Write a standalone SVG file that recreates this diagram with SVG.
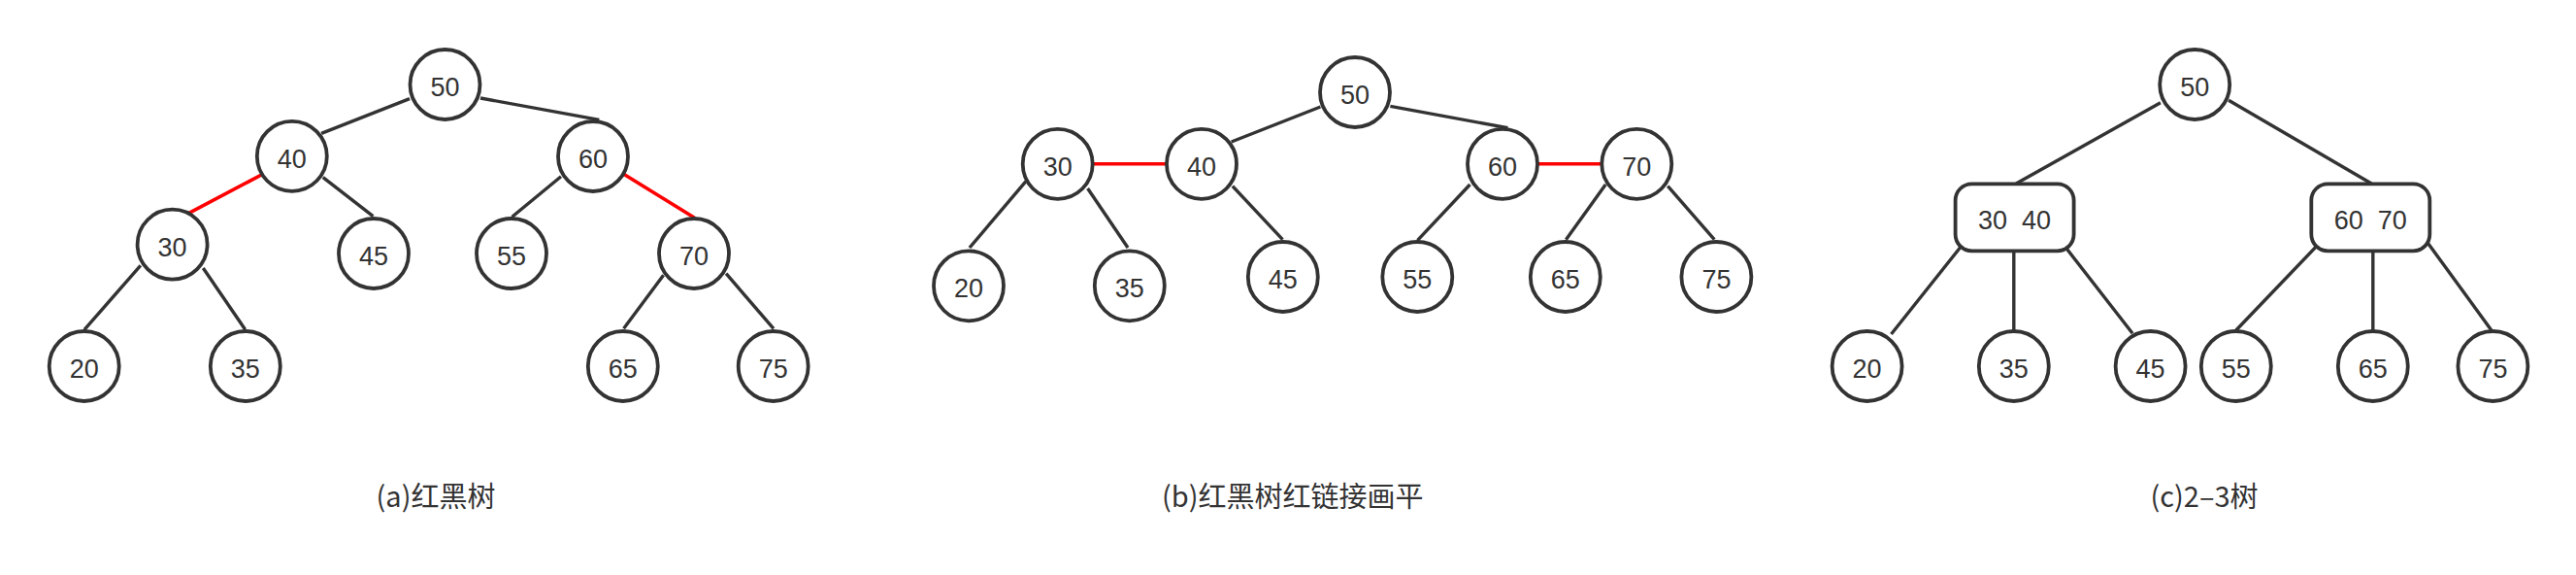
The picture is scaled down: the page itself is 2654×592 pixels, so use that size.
<svg xmlns="http://www.w3.org/2000/svg" width="2654" height="592" viewBox="0 0 2654 592">
<style>
.n{fill:#fff;stroke:#333;stroke-width:3.8}
.t{font-family:"Liberation Sans",Arial,sans-serif;font-size:27px;fill:#333;text-anchor:middle}
.e{stroke:#333;stroke-width:3.4;fill:none}
.r{stroke:#ff0000;stroke-width:3.6;fill:none}
.cap{font-family:"Noto Sans CJK SC","Noto Sans",sans-serif;font-size:29px;fill:#333;text-anchor:middle}
</style>
<rect width="2654" height="592" fill="#fff"/>
<g id="connectors">
<line class="e" x1="422" y1="101.7" x2="331.1" y2="137.3"/>
<line class="e" x1="495" y1="101" x2="617.3" y2="123.3"/>
<line class="r" x1="269.4" y1="180" x2="194.7" y2="219.3"/>
<line class="e" x1="332.8" y1="182.7" x2="384.4" y2="222.7"/>
<line class="e" x1="578" y1="181.7" x2="527.6" y2="223.3"/>
<line class="r" x1="642.6" y1="179.3" x2="715.6" y2="224.3"/>
<line class="e" x1="144.8" y1="273.3" x2="87" y2="339.3"/>
<line class="e" x1="209.3" y1="276" x2="252.6" y2="339.3"/>
<line class="e" x1="683.6" y1="283.3" x2="642.6" y2="338.3"/>
<line class="e" x1="748.1" y1="281.7" x2="797" y2="338.3"/>

<line class="e" x1="1360.4" y1="110" x2="1268.7" y2="146"/>
<line class="e" x1="1432.4" y1="109.3" x2="1553.5" y2="131.7"/>
<line class="r" x1="1125" y1="168.8" x2="1203" y2="168.8"/>
<line class="r" x1="1583" y1="168.8" x2="1651" y2="168.8"/>
<line class="e" x1="1057" y1="186.7" x2="998.9" y2="255"/>
<line class="e" x1="1120.6" y1="194" x2="1162" y2="255"/>
<line class="e" x1="1269.9" y1="191.7" x2="1321.5" y2="246.7"/>
<line class="e" x1="1514.5" y1="190" x2="1460.5" y2="247.3"/>
<line class="e" x1="1654.2" y1="190" x2="1613.4" y2="246.7"/>
<line class="e" x1="1718.3" y1="191.7" x2="1766.3" y2="246.7"/>

<line class="e" x1="2225.9" y1="105.7" x2="2077.2" y2="189"/>
<line class="e" x1="2296.1" y1="103.3" x2="2443.3" y2="189"/>
<line class="e" x1="2020.8" y1="253.3" x2="1948.5" y2="344"/>
<line class="e" x1="2074.8" y1="258" x2="2074.8" y2="340"/>
<line class="e" x1="2128.4" y1="255" x2="2197.1" y2="343.3"/>
<line class="e" x1="2388.4" y1="251.7" x2="2303.8" y2="340"/>
<line class="e" x1="2444.8" y1="258" x2="2444.8" y2="340"/>
<line class="e" x1="2501.2" y1="250" x2="2566.8" y2="340"/>
</g>

<g id="a50"><circle class="n" cx="458.5" cy="87" r="36"/><text class="t" x="458.5" y="99">50</text></g>
<g id="a40"><circle class="n" cx="300.8" cy="160.8" r="36"/><text class="t" x="300.8" y="172.8">40</text></g>
<g id="a60"><circle class="n" cx="611" cy="161" r="36"/><text class="t" x="611" y="173">60</text></g>
<g id="a30"><circle class="n" cx="177.6" cy="251.7" r="36"/><text class="t" x="177.6" y="263.7">30</text></g>
<g id="a45"><circle class="n" cx="385" cy="261" r="36"/><text class="t" x="385" y="273">45</text></g>
<g id="a55"><circle class="n" cx="527" cy="261" r="36"/><text class="t" x="527" y="273">55</text></g>
<g id="a70"><circle class="n" cx="715" cy="261" r="36"/><text class="t" x="715" y="273">70</text></g>
<g id="a20"><circle class="n" cx="86.7" cy="377" r="36"/><text class="t" x="86.7" y="389">20</text></g>
<g id="a35"><circle class="n" cx="252.8" cy="377" r="36"/><text class="t" x="252.8" y="389">35</text></g>
<g id="a65"><circle class="n" cx="641.8" cy="377" r="36"/><text class="t" x="641.8" y="389">65</text></g>
<g id="a75"><circle class="n" cx="796.7" cy="377" r="36"/><text class="t" x="796.7" y="389">75</text></g>

<g id="b50"><circle class="n" cx="1396" cy="95" r="36"/><text class="t" x="1396" y="107">50</text></g>
<g id="b30"><circle class="n" cx="1089.7" cy="168.8" r="36"/><text class="t" x="1089.7" y="180.8">30</text></g>
<g id="b40"><circle class="n" cx="1238" cy="168.8" r="36"/><text class="t" x="1238" y="180.8">40</text></g>
<g id="b60"><circle class="n" cx="1548" cy="168.8" r="36"/><text class="t" x="1548" y="180.8">60</text></g>
<g id="b70"><circle class="n" cx="1686.3" cy="168.8" r="36"/><text class="t" x="1686.3" y="180.8">70</text></g>
<g id="b20"><circle class="n" cx="998" cy="294.3" r="36"/><text class="t" x="998" y="306.3">20</text></g>
<g id="b35"><circle class="n" cx="1163.8" cy="294.3" r="36"/><text class="t" x="1163.8" y="306.3">35</text></g>
<g id="b45"><circle class="n" cx="1321.8" cy="285" r="36"/><text class="t" x="1321.8" y="297">45</text></g>
<g id="b55"><circle class="n" cx="1460.3" cy="285" r="36"/><text class="t" x="1460.3" y="297">55</text></g>
<g id="b65"><circle class="n" cx="1612.8" cy="285" r="36"/><text class="t" x="1612.8" y="297">65</text></g>
<g id="b75"><circle class="n" cx="1768.4" cy="285" r="36"/><text class="t" x="1768.4" y="297">75</text></g>

<g id="c50"><circle class="n" cx="2261.2" cy="87" r="36"/><text class="t" x="2261.2" y="99">50</text></g>
<g id="c3040"><rect class="n" x="2014.6" y="189.3" width="122" height="69" rx="17"/><text class="t" x="2075.6" y="236" xml:space="preserve">30  40</text></g>
<g id="c6070"><rect class="n" x="2381.3" y="189.3" width="122" height="69" rx="17"/><text class="t" x="2442.3" y="236" xml:space="preserve">60  70</text></g>
<g id="c20"><circle class="n" cx="1923.6" cy="377" r="36"/><text class="t" x="1923.6" y="389">20</text></g>
<g id="c35"><circle class="n" cx="2074.8" cy="377" r="36"/><text class="t" x="2074.8" y="389">35</text></g>
<g id="c45"><circle class="n" cx="2215.6" cy="377" r="36"/><text class="t" x="2215.6" y="389">45</text></g>
<g id="c55"><circle class="n" cx="2303.8" cy="377" r="36"/><text class="t" x="2303.8" y="389">55</text></g>
<g id="c65"><circle class="n" cx="2444.8" cy="377" r="36"/><text class="t" x="2444.8" y="389">65</text></g>
<g id="c75"><circle class="n" cx="2568.4" cy="377" r="36"/><text class="t" x="2568.4" y="389">75</text></g>

<g id="captions">
<text class="cap" x="449" y="522">(a)红黑树</text>
<text class="cap" x="1331.7" y="522">(b)红黑树红链接画平</text>
<text class="cap" x="2271" y="522">(c)2–3树</text>
</g>
</svg>
